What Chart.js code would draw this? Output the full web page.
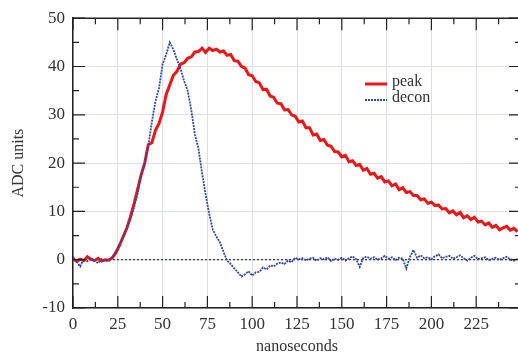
<!DOCTYPE html>
<html>
<head>
<meta charset="utf-8">
<script src="https://cdn.jsdelivr.net/npm/chart.js@4/dist/chart.umd.min.js"></script>
<style>
    html, body { margin: 0; padding: 0; background: #fff; }
    #wrap { width: 518px; height: 353px; overflow: hidden; position: relative; }
    canvas { display: block; }
</style>
</head>
<body>
<div id="wrap">
    <canvas id="adcChart" width="530" height="353"></canvas>
</div>
<script>
/* DADOS */
const nanoseconds = [
    0, 2, 4, 6, 8, 10, 12, 14, 16, 18, 20, 22, 24, 26, 28, 30, 32, 34, 36, 38,
    40, 42, 44, 46, 48, 50, 52, 54, 56, 58, 60, 62, 64, 66, 68, 70, 72, 74, 76, 78,
    80, 82, 84, 86, 88, 90, 92, 94, 96, 98, 100, 102, 104, 106, 108, 110, 112, 114, 116, 118,
    120, 122, 124, 126, 128, 130, 132, 134, 136, 138, 140, 142, 144, 146, 148, 150, 152, 154, 156, 158,
    160, 162, 164, 166, 168, 170, 172, 174, 176, 178, 180, 182, 184, 186, 188, 190, 192, 194, 196, 198,
    200, 202, 204, 206, 208, 210, 212, 214, 216, 218, 220, 222, 224, 226, 228, 230, 232, 234, 236, 238,
    240, 242, 244, 246, 248
];

const peak = [
    0.2, -0.3, 0.1, -0.2, 0.6, 0.1, -0.2, 0.3, -0.3, 0.0, -0.1, 0.4, 1.5, 3.0, 4.8, 6.5, 8.8, 11.5, 14.5, 17.5,
    20.0, 23.8, 24.2, 26.8, 28.2, 30.6, 34.2, 36.2, 38.2, 39.0, 40.5, 40.8, 41.7, 42.0, 43.0, 43.1, 43.8, 42.9, 43.8, 43.3,
    43.6, 43.0, 43.2, 42.3, 42.5, 41.2, 41.1, 40.0, 39.7, 38.3, 38.1, 36.9, 36.6, 35.2, 35.3, 33.9, 33.6, 32.4, 32.3, 31.0,
    31.1, 30.0, 29.7, 28.5, 28.7, 27.3, 27.3, 25.8, 26.0, 24.7, 24.9, 23.7, 23.5, 22.4, 22.3, 21.3, 21.6, 20.3, 20.5, 19.5,
    19.7, 18.5, 18.9, 17.7, 17.9, 16.9, 17.2, 16.1, 16.3, 15.3, 15.7, 14.5, 14.9, 13.9, 14.1, 13.3, 13.3, 12.4, 12.6, 11.7,
    11.9, 11.2, 11.3, 10.5, 10.6, 9.7, 10.1, 9.3, 9.8, 8.7, 9.1, 8.3, 8.8, 7.8, 8.0, 7.2, 7.6, 6.7, 7.1, 6.2,
    6.6, 6.9, 6.1, 6.5, 5.8
];

const decon = [
    0.6, -0.4, -1.4, 0.2, -0.3, 0.3, -0.2, -0.7, 0.1, -0.3, 0.0, 0.5, 1.8, 3.2, 4.6, 6.4, 8.3, 10.8, 13.6, 17.5,
    20.0, 23.5, 28.5, 32.8, 35.5, 40.5, 42.5, 45.0, 43.5, 41.5, 39.5, 37.0, 35.0, 31.0, 26.0, 23.0, 18.0, 13.5, 9.5, 6.2,
    4.8, 3.6, 1.6, -0.2, -0.9, -1.8, -2.6, -3.5, -3.0, -2.4, -3.3, -2.6, -2.5, -1.6, -2.0, -1.2, -1.4, -0.8, -0.6, -0.9,
    -0.2, -0.5, 0.4, 0.1, 0.3, -0.1, 0.2, 0.4, -0.2, 0.3, 0.1, 0.5, -0.3, 0.2, 0.0, 0.4, -0.2, 0.3, 0.7, 0.1,
    -1.5, 0.4, 0.6, 0.2, 0.5, 0.0, 0.3, 0.8, 0.2, 0.5, -0.1, 0.4, 0.2, -1.8, 0.6, 2.0, 0.4, 0.9, 0.3, 0.5,
    0.1, 0.7, 1.1, 0.3, 0.6, 0.8, 0.2, 0.5, 0.9, 0.3, -0.2, 0.4, 0.8, 0.1, 0.3, 0.5, -0.1, 0.2, 0.4, 0.0,
    0.3, 0.6, 0.1, -0.2, 0.2
];

const baselineX = [0, 250];
const baselineY = [0, 0];

const xTicks = [0, 25, 50, 75, 100, 125, 150, 175, 200, 225];
const yTicks = [-10, 0, 10, 20, 30, 40, 50];

const fonteSerif = "'Liberation Serif', 'DejaVu Serif', serif";

function montarPontos(xs, ys) {
    return xs.map(function (x, i) {
        return { x: x, y: ys[i] };
    });
}

/* moldura, ticks internos e legenda */
const molduraPlugin = {
    id: "moldura",
    afterDraw: function (chart) {
        const c = chart.ctx;
        const area = chart.chartArea;
        const sx = chart.scales.x;
        const sy = chart.scales.y;

        c.save();
        c.strokeStyle = "#222";
        c.lineWidth = 1.5;
        c.beginPath();
        c.moveTo(area.left, area.top);
        c.lineTo(area.right, area.top);
        c.lineTo(area.right, area.bottom);
        c.stroke();

        c.lineWidth = 1.2;
        c.beginPath();
        for (let v = 0; v <= sx.max; v += 12.5) {
            const px = sx.getPixelForValue(v);
            const len = (v % 25 === 0) ? 12 : 6;
            c.moveTo(px, area.bottom);
            c.lineTo(px, area.bottom - len);
            c.moveTo(px, area.top);
            c.lineTo(px, area.top + len);
        }
        for (let v = sy.min; v <= sy.max; v += 5) {
            const py = sy.getPixelForValue(v);
            const len = (v % 10 === 0) ? 12 : 6;
            c.moveTo(area.left, py);
            c.lineTo(area.left + len, py);
            c.moveTo(area.right, py);
            c.lineTo(area.right - len, py);
        }
        c.stroke();

        // legenda
        const lx = 365;
        let ly = 84;
        chart.data.datasets.forEach(function (ds) {
            if (!ds.naLegenda) {
                return;
            }
            c.beginPath();
            c.strokeStyle = ds.borderColor;
            c.lineWidth = ds.borderWidth;
            c.setLineDash(ds.borderDash || []);
            c.moveTo(lx, ly);
            c.lineTo(lx + 22, ly);
            c.stroke();
            c.setLineDash([]);
            c.fillStyle = "#333";
            c.font = "16px " + fonteSerif;
            c.textBaseline = "middle";
            c.fillText(ds.label, lx + 27, ly - 2);
            ly += 16;
        });
        c.restore();
    }
};

const ctx = document.getElementById("adcChart");

const chart = new Chart(ctx, {
    type: "line",
    data: {
        datasets: [
            {
                label: "zero",
                data: montarPontos(baselineX, baselineY),
                borderColor: "#333",
                borderWidth: 1.2,
                borderDash: [2, 2],
                pointRadius: 0,
                order: 3
            },
            {
                label: "peak",
                data: montarPontos(nanoseconds, peak),
                borderColor: "#f01414",
                borderWidth: 3,
                pointRadius: 0,
                tension: 0,
                naLegenda: true,
                order: 2
            },
            {
                label: "decon",
                data: montarPontos(nanoseconds, decon),
                borderColor: "#2f47a8",
                borderWidth: 1.8,
                borderDash: [2, 1],
                pointRadius: 0,
                tension: 0,
                naLegenda: true,
                order: 1
            }
        ]
    },
    options: {
        responsive: false,
        animation: false,
        layout: {
            padding: { left: 0, right: 9, top: 15, bottom: 0 }
        },
        plugins: {
            legend: { display: false },
            tooltip: { enabled: false }
        },
        scales: {
            x: {
                type: "linear",
                min: 0,
                max: 250,
                afterFit: function (scale) { scale.height = 45; },
                afterBuildTicks: function (scale) {
                    scale.ticks = xTicks.map(function (v) { return { value: v }; });
                },
                grid: { color: "#dcdff2", lineWidth: 1, drawTicks: false },
                border: { display: true, color: "#222", width: 1.5 },
                ticks: {
                    padding: 6,
                    color: "#333",
                    font: { family: fonteSerif, size: 17 }
                },
                title: {
                    display: true,
                    text: "nanoseconds",
                    color: "#333",
                    padding: { top: 0, bottom: -3 },
                    font: { family: fonteSerif, size: 16 }
                }
            },
            y: {
                min: -10,
                max: 50,
                afterFit: function (scale) { scale.width = 73; },
                afterBuildTicks: function (scale) {
                    scale.ticks = yTicks.map(function (v) { return { value: v }; });
                },
                grid: { color: "#dcdff2", lineWidth: 1, drawTicks: false },
                border: { display: true, color: "#222", width: 1.5 },
                ticks: {
                    padding: 8,
                    color: "#333",
                    font: { family: fonteSerif, size: 17 }
                },
                title: {
                    display: true,
                    text: "ADC units",
                    color: "#333",
                    padding: { top: 9, bottom: 0 },
                    font: { family: fonteSerif, size: 16 }
                }
            }
        }
    },
    plugins: [molduraPlugin]
});
</script>
</body>
</html>
